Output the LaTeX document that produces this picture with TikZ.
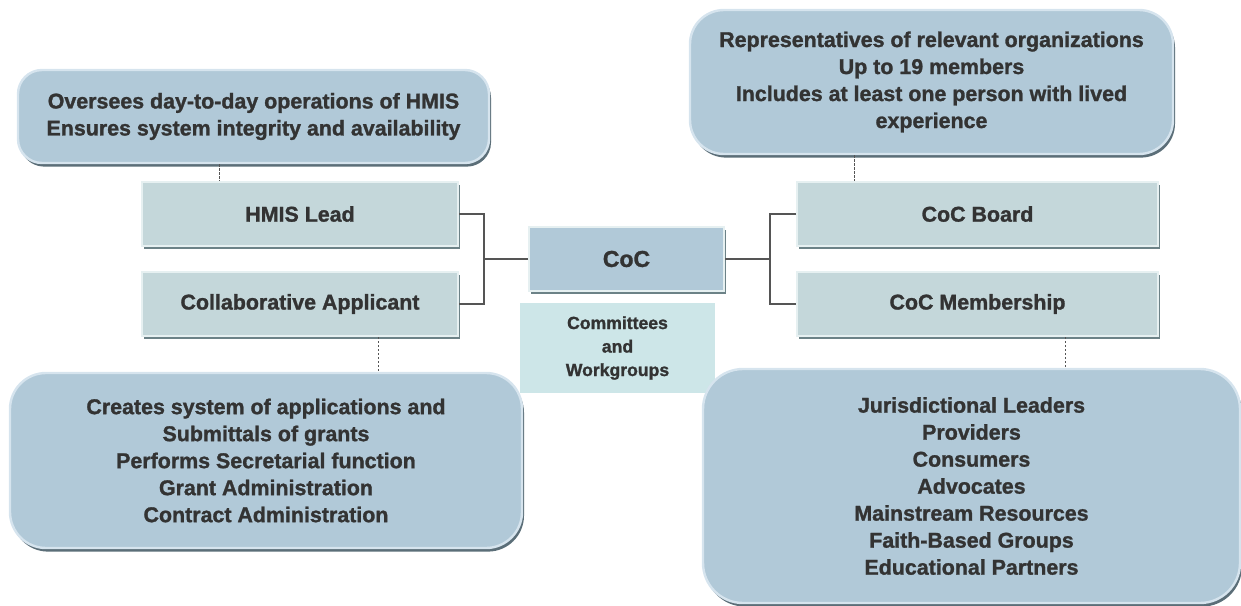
\documentclass[tikz,border=0pt]{standalone}
\usepackage{fontspec}
\setmainfont{Liberation Sans}[BoldFeatures={FakeBold=1.3}]
\usetikzlibrary{calc,shadows}

\definecolor{paneblue}{HTML}{B1C9D8}
\definecolor{panehi}{HTML}{D6E4EE}
\definecolor{panedark}{HTML}{5B6E78}
\definecolor{rolefill}{HTML}{C4D7DA}
\definecolor{rolehi}{HTML}{E6F0F1}
\definecolor{roledark}{HTML}{6C8287}
\definecolor{cmtfill}{HTML}{CDE6E8}
\definecolor{inkgray}{HTML}{333333}
\definecolor{linkgray}{HTML}{555555}

\begin{document}
\begin{tikzpicture}[x=0.5pt, y=-0.5pt,
    pane/.style={draw=panehi, line width=1.2pt, fill=paneblue, rounded corners=#1,
        drop shadow={shadow xshift=1pt, shadow yshift=-1.8pt, fill=panedark, opacity=1},
        text=inkgray, align=center, inner sep=0pt,
        font=\fontsize{10.7}{13.5}\selectfont\bfseries},
    pane/.default=12pt,
    role/.style={draw=rolehi, line width=1pt, fill=rolefill,
        drop shadow={shadow xshift=1.2pt, shadow yshift=-1.5pt, fill=roledark, opacity=1},
        minimum width=158pt, minimum height=32pt, inner sep=0pt,
        text=inkgray, font=\fontsize{10.7}{13.5}\selectfont\bfseries},
    link/.style={draw=linkgray, line width=0.7pt},
    linkdash/.style={draw=linkgray, line width=0.5pt, dash pattern=on 1.2pt off 0.8pt}]

\useasboundingbox (0,0) rectangle (1241,605);

% left side
\node [pane=12pt, minimum width=235.5pt, minimum height=46.5pt] (ops) at (253.5,116.5)
    {Oversees day-to-day operations of HMIS\\Ensures system integrity and availability};
\node [role] (hmis) at (300,214) {HMIS Lead};
\node [role] (collab) at ($(hmis) + (0,90)$) {Collaborative Applicant};
\node [pane=18pt, minimum width=256pt, minimum height=87.5pt] (apps) at (266,460.5)
    {Creates system of applications and\\Submittals of grants\\Performs Secretarial function\\Grant Administration\\Contract Administration};

% centre
\node [role, fill=paneblue, minimum width=97.5pt, font=\fontsize{11.5}{13.5}\selectfont\bfseries] (coc) at (626.5,259) {CoC};
\node [fill=cmtfill, minimum width=97.5pt, minimum height=45pt, inner sep=0pt, align=center,
    text=inkgray, font=\fontsize{8.8}{11.75}\selectfont\bfseries] (cmt) at (617.5,348)
    {Committees\\and\\Workgroups};

% right side
\node [pane=17pt, minimum width=241.5pt, minimum height=72pt] (reps) at (931.5,82)
    {Representatives of relevant organizations\\Up to 19 members\\Includes at least one person with lived\\experience};
\node [role, minimum width=180.5pt] (board) at (977.5,214) {CoC Board};
\node [role, minimum width=180.5pt] (member) at ($(board) + (0,90)$) {CoC Membership};
\node [pane=20pt, minimum width=268.5pt, minimum height=117pt] (groups) at (971.5,486)
    {Jurisdictional Leaders\\Providers\\Consumers\\Advocates\\Mainstream Resources\\Faith-Based Groups\\Educational Partners};

% brackets
\draw [link] (hmis.east) -- ++(25,0) coordinate (lj) |- (collab.east);
\draw [link] (coc.west) -- (coc.west -| lj);
\draw [link] (board.west) -- ++(-26,0) coordinate (rj) |- (member.west);
\draw [link] (coc.east) -- (coc.east -| rj);

% dashed ties
\coordinate (hmisTop) at ($(hmis.north west) + (78,0)$);
\coordinate (collabBot) at ($(collab.south west) + (237,0)$);
\coordinate (boardTop) at ($(board.north west) + (58,0)$);
\coordinate (memberBot) at ($(member.south west) + (269,0)$);
\draw [linkdash] (ops.south -| hmisTop) -- (hmisTop);
\draw [linkdash] (collabBot) -- (apps.north -| collabBot);
\draw [linkdash] (reps.south -| boardTop) -- (boardTop);
\draw [linkdash] (memberBot) -- (groups.north -| memberBot);
\end{tikzpicture}
\end{document}
